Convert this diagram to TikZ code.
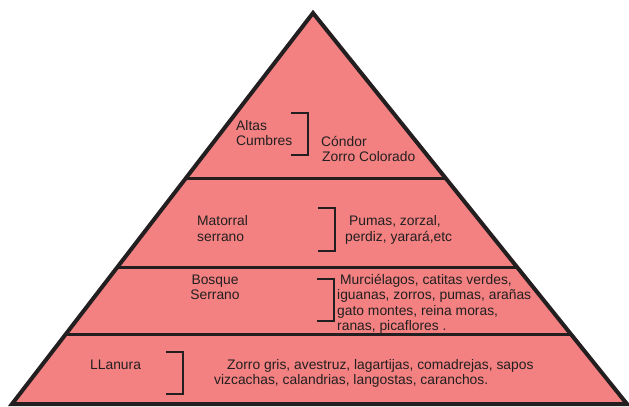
\documentclass[tikz,border=0pt]{standalone}
\usepackage{fontspec}
\setmainfont{Liberation Sans}
\usetikzlibrary{calc,positioning}
\definecolor{piso}{RGB}{243,129,129}
\definecolor{trazo}{RGB}{35,31,32}

\begin{document}
\begin{tikzpicture}[x=1bp, y=-1bp,
    rotulo/.style={font=\fontsize{13.9}{15.6}\selectfont, text=trazo, inner sep=0pt, anchor=base west, align=left},
    llave/.style={draw=trazo, line width=1.6bp},
    borde/.style={draw=trazo, line width=4bp, line join=miter},
    franja/.style={draw=trazo, line width=3bp}]
    \useasboundingbox (0,0) rectangle (629,406);

    % piramide
    \coordinate (cima) at (313,13);
    \coordinate (izq) at (12,404);
    \coordinate (der) at (627,404);
    \fill[piso] (cima) -- (izq) -- (der) -- cycle;

    % divisiones entre pisos
    \foreach \t in {0.422,0.6496,0.8235}
        \draw[franja] ($(cima)!\t!(izq)$) -- ($(cima)!\t!(der)$);
    \draw[borde] (cima) -- (izq) -- (der) -- cycle;

    % altas cumbres (base = ultima linea)
    \node[rotulo] (altas) at (236,145.6) {Altas\\Cumbres};
    \draw[llave] (291,113) -- (308,113) -- (308,155) -- (291,155);
    \node[rotulo] (condor) at (321,161.6) {C\'ondor\\\hspace*{1bp}Zorro Colorado};

    % matorral
    \node[rotulo] (matorral) at (197,241) {Matorral\\serrano};
    \draw[llave] (318,208) -- (335,208) -- (335,251) -- (318,251);
    \node[rotulo] (pumas) at (345,241) {\hspace*{4bp}Pumas, zorzal,\\perdiz, yarar\'a,etc};

    % bosque
    \node[rotulo, align=center, anchor=base] (bosque) at (215,299.6) {Bosque\\Serrano};
    \draw[llave] (317,279) -- (334,279) -- (334,321) -- (317,321);
    \node[rotulo] (murcielagos) at (337,330.8) {\hspace*{3bp}Murci\'elagos, catitas verdes,\\iguanas, zorros, pumas, ara\~nas\\gato montes, reina moras,\\ranas, picaflores .};

    % llanura
    \node[rotulo] (llanura) at (90,369) {LLanura};
    \draw[llave] (166,352) -- (183,352) -- (183,394) -- (166,394);
    \node[rotulo] (zorro) at (214,384.6) {\hspace*{13bp}Zorro gris, avestruz, lagartijas, comadrejas, sapos\\vizcachas, calandrias, langostas, caranchos.};
\end{tikzpicture}
\end{document}
